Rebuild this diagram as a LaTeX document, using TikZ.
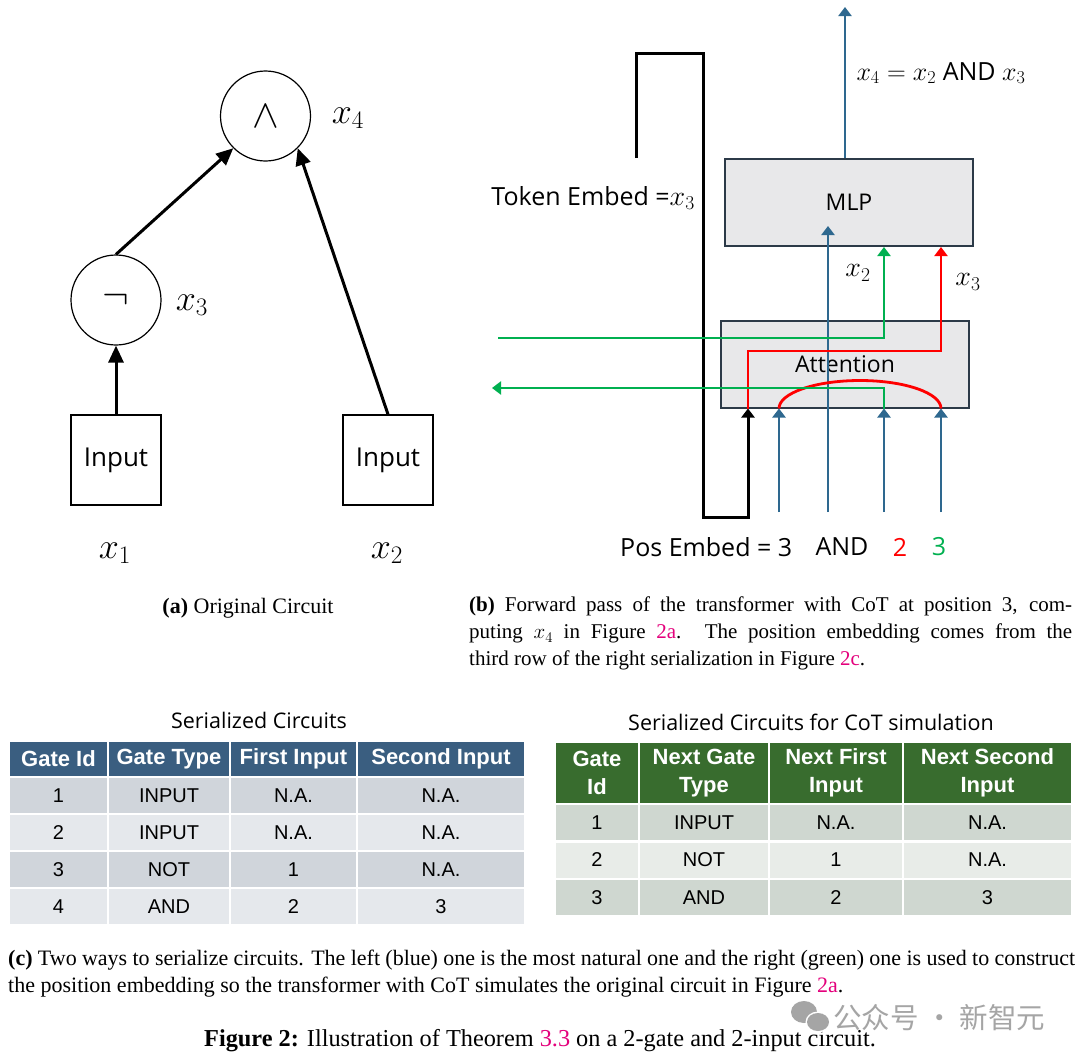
\RequirePackage{fix-cm}
\documentclass[tikz,border=0pt]{standalone}
\usepackage{fontspec}
\setmainfont{Liberation Serif}
\newfontfamily\diafont{Open Sans}
\newfontfamily\tabfont{Liberation Sans}
\newfontfamily\cjkfont{Noto Sans CJK SC}
\usetikzlibrary{arrows.meta, positioning, calc}

\definecolor{tfblue}{RGB}{46,104,143}
\definecolor{tfgreen}{RGB}{0,176,80}
\definecolor{tfred}{RGB}{255,0,0}
\definecolor{boxgray}{RGB}{232,232,234}
\definecolor{boxline}{RGB}{44,58,72}
\definecolor{headblue}{RGB}{58,94,128}
\definecolor{rowblueA}{RGB}{208,213,219}
\definecolor{rowblueB}{RGB}{229,232,236}
\definecolor{headgreen}{RGB}{56,108,46}
\definecolor{rowgreenA}{RGB}{207,215,208}
\definecolor{rowgreenB}{RGB}{232,236,232}
\definecolor{linkpink}{RGB}{228,0,124}
\definecolor{markgray}{RGB}{165,165,165}

\newcommand{\xv}[1]{{\fontsize{28}{28}\selectfont$x_{#1}$}}

\tikzset{
  gate/.style={draw, circle, minimum size=90pt, inner sep=0pt, line width=1.2pt, font=\fontsize{40}{40}\selectfont},
  inbox/.style={draw, minimum width=90pt, minimum height=90pt, inner sep=0pt, line width=1.3pt, font=\diafont\fontsize{26}{26}\selectfont},
  wire/.style={line width=3pt, -{Triangle[length=17pt,width=15pt]}},
  varlbl/.style={inner sep=0pt, font=\fontsize{36}{36}\selectfont},
  layer/.style={draw=boxline, fill=boxgray, line width=2pt, minimum width=248pt, minimum height=87pt, inner sep=0pt, font=\diafont\fontsize{23}{23}\selectfont},
  flow/.style={line width=2.8pt, -{Triangle[length=9pt,width=13pt]}},
  difflbl/.style={inner sep=0pt, font=\diafont\fontsize{25}{25}\selectfont},
  tabtitle/.style={inner sep=0pt, font=\diafont\fontsize{21.5}{21.5}\selectfont},
  headcell/.style={draw=white, line width=2.5pt, inner sep=0pt, text=white, align=center, font=\tabfont\bfseries\fontsize{22}{28}\selectfont},
  bodycell/.style={draw=white, line width=2.5pt, inner sep=0pt, font=\tabfont\fontsize{20}{20}\selectfont},
  capt/.style={inner sep=0pt, font=\fontsize{22}{27}\selectfont},
}

\begin{document}
\begin{tikzpicture}[x=1pt, y=-1pt]
  \fill[white] (0,0) rectangle (1080,1061);
  \useasboundingbox (0,0) rectangle (1080,1061);

  % (a) original circuit
  \node[gate] (andg) at (265.5,116) {$\wedge$};
  \node[gate] (notg) at (116,300) {$\neg$};
  \node[inbox] (in1) at (116,460) {Input};
  \node[inbox] (in2) at (388,460) {Input};
  \node[varlbl] (lx4) at (348,118) {$x_4$};
  \node[varlbl] (lx3) at (192,305) {$x_3$};
  \node[varlbl] (lx1) at (115,553) {$x_1$};
  \node[varlbl] (lx2) at (387,553) {$x_2$};

  \draw[wire] (in1.north) -- (notg.south);
  \draw[wire] (notg.north) -- (andg.225);
  \draw[wire] (in2.north) -- (andg.-45);

  % (b) transformer layers
  \node[layer] (mlp) at (849,202.5) {MLP};
  \node[layer] (att) at (845,364) {Attention};

  \coordinate (outtop) at (845,7);
  \coordinate (tok) at (636,158);
  \coordinate (rk) at (748,351);
  \coordinate (gl) at (498,338);
  \coordinate (gr) at (492,388);
  \coordinate (p1) at (779,512);
  \coordinate (p2) at (828,512);
  \coordinate (p3) at (884,512);
  \coordinate (p4) at (941,512);

  \draw[flow, tfblue] (outtop |- mlp.north) -- (outtop);
  \draw[flow, tfblue] (p1) -- (p1 |- att.south);
  \draw[flow, tfblue] (p2) -- ($(p2 |- mlp.south)+(0,-21)$);
  \draw[flow, tfblue] (p3) -- (p3 |- att.south);
  \draw[flow, tfblue] (p4) -- (p4 |- att.south);

  % token embedding loop
  \draw[flow, line width=3pt] (tok) |- (703,53) |- (748,517) -- (rk |- att.south);

  % attention heads
  \draw[flow, tfred] (rk |- att.south) -- (rk) -| (p4 |- mlp.south);
  \draw[line width=2.8pt, tfred] (p1 |- att.south) arc[start angle=180, end angle=0, x radius=81pt, y radius=28pt];
  \draw[flow, tfgreen] (gl) -| (p3 |- mlp.south);
  \draw[flow, tfgreen] (p3 |- att.south) |- (gr);

  % labels
  \node[difflbl] (eqlbl) at (941,73) {{\fontsize{26}{26}\selectfont$x_4 = x_2$} AND {\fontsize{26}{26}\selectfont$x_3$}};
  \node[difflbl, anchor=east] (tokemb) at (695,198) {Token Embed =\xv{3}};
  \node[difflbl] (mx2) at (858,273) {\xv{2}};
  \node[difflbl] (mx3) at (968,282) {\xv{3}};
  \node[difflbl, anchor=west] (posemb) at (620,547) {Pos Embed = 3};
  \node[difflbl] (posand) at (842,547) {AND};
  \node[difflbl, text=tfred] (pos2) at (900,547) {2};
  \node[difflbl, text=tfgreen] (pos3) at (939,547) {3};

  % captions (a) and (b)
  \node[capt] (capa) at (248,608) {\textbf{(a)} Original Circuit};
  \node[capt, font=\fontsize{21}{27}\selectfont, anchor=north west, text width=603pt, align=justify] (capb) at (469,597) {\textbf{(b)} Forward pass of the transformer with CoT at position 3, com-\linebreak puting $x_4$ in Figure \textcolor{linkpink}{2a}. The position embedding comes from the\linebreak third row of the right serialization in Figure \textcolor{linkpink}{2c}.};

  % (c) left table
  \node[tabtitle] (ltitle) at (259,720) {Serialized Circuits};
  \foreach \cx/\cw/\txt [count=\c] in {58.5/99/Gate Id, 169/122/Gate Type, 293.5/127/First Input, 441/168/Second Input}
    \node[headcell, fill=headblue, minimum width=\cw pt, minimum height=36pt] (lh-\c) at (\cx,759) {\txt};
  \foreach \cy/\shade/\ca/\cb/\cc/\cd [count=\r] in {795.5/rowblueA/1/INPUT/N.A./N.A., 832.5/rowblueB/2/INPUT/N.A./N.A., 869.5/rowblueA/3/NOT/1/N.A., 906.5/rowblueB/4/AND/2/3} {
    \node[bodycell, fill=\shade, minimum width=99pt, minimum height=37pt] (l-\r-1) at (58.5,\cy) {\ca};
    \node[bodycell, fill=\shade, minimum width=122pt, minimum height=37pt] (l-\r-2) at (169,\cy) {\cb};
    \node[bodycell, fill=\shade, minimum width=127pt, minimum height=37pt] (l-\r-3) at (293.5,\cy) {\cc};
    \node[bodycell, fill=\shade, minimum width=168pt, minimum height=37pt] (l-\r-4) at (441,\cy) {\cd};
  }

  % (c) right table
  \node[tabtitle] (rtitle) at (811,722) {Serialized Circuits for CoT simulation};
  \foreach \cx/\cw/\txt [count=\c] in {597/84/Gate\\Id, 704/130/Next Gate\\Type, 836/134/Next First\\Input, 987.5/169/Next Second\\Input}
    \node[headcell, fill=headgreen, minimum width=\cw pt, minimum height=63pt] (rh-\c) at (\cx,773) {\txt};
  \foreach \cy/\shade/\ca/\cb/\cc/\cd [count=\r] in {822.5/rowgreenA/1/INPUT/N.A./N.A., 860/rowgreenB/2/NOT/1/N.A., 897.5/rowgreenA/3/AND/2/3} {
    \node[bodycell, fill=\shade, minimum width=84pt, minimum height=37.5pt] (r-\r-1) at (597,\cy) {\ca};
    \node[bodycell, fill=\shade, minimum width=130pt, minimum height=37.5pt] (r-\r-2) at (704,\cy) {\cb};
    \node[bodycell, fill=\shade, minimum width=134pt, minimum height=37.5pt] (r-\r-3) at (836,\cy) {\cc};
    \node[bodycell, fill=\shade, minimum width=169pt, minimum height=37.5pt] (r-\r-4) at (987.5,\cy) {\cd};
  }

  % caption (c) and figure caption
  \node[capt, anchor=north west, text width=1067pt, align=justify] (capc) at (8,950) {\textbf{(c)} Two ways to serialize circuits. The left (blue) one is the most natural one and the right (green) one is used to construct\linebreak the position embedding so the transformer with CoT simulates the original circuit in Figure \textcolor{linkpink}{2a}.};
  \node[capt, font=\fontsize{24.3}{27}\selectfont] (figcap) at (540,1041) {\textbf{Figure 2:} Illustration of Theorem \textcolor{linkpink}{3.3} on a 2-gate and 2-input circuit.};

  % watermark
  \fill[markgray] (804,1012) ellipse [x radius=13pt, y radius=11pt];
  \fill[white] (818,1022) ellipse [x radius=12.5pt, y radius=10.5pt];
  \fill[markgray] (818,1022) ellipse [x radius=11pt, y radius=9pt];
  \node[inner sep=0pt, anchor=west, text=markgray, font=\cjkfont\fontsize{28.5}{28.5}\selectfont] (mark) at (833,1018) {公众号 · 新智元};
\end{tikzpicture}
\end{document}
